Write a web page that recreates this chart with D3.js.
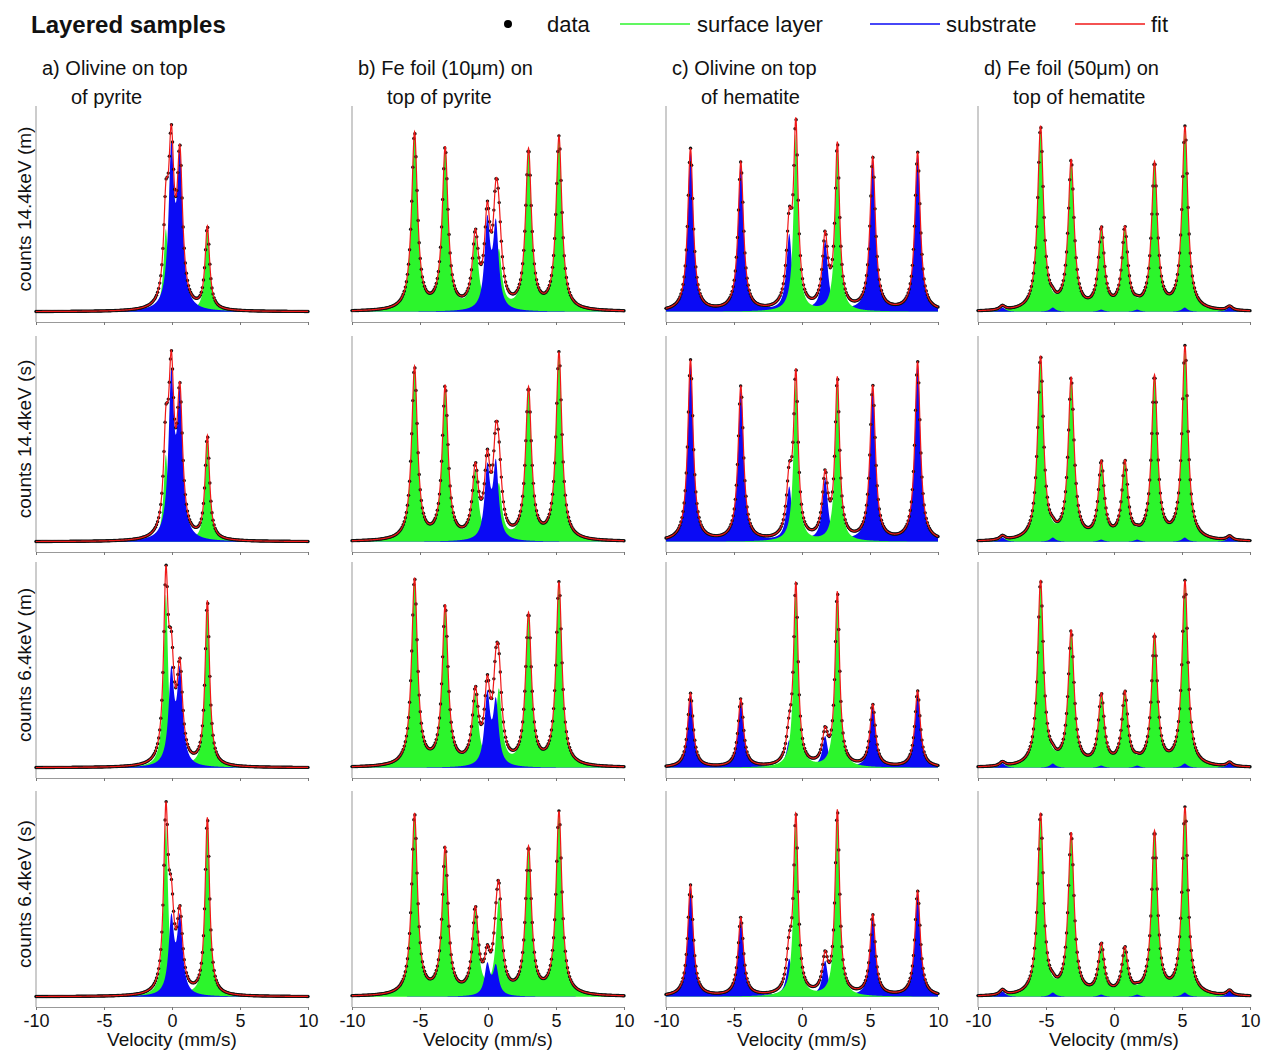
<!DOCTYPE html>
<html>
<head>
<meta charset="utf-8">
<script src="https://cdn.jsdelivr.net/npm/d3@7"></script>
<style>
  body { margin: 0; background: #fff; }
  text { font-family: "Liberation Sans", Arial, sans-serif; fill: #111; }
</style>
</head>
<body>
<div id="chart"></div>
<script>
// --- data ---
const velocityTicks = [-10, -5, 0, 5, 10];
const rowLabels = ["counts 14.4keV (m)", "counts 14.4keV (s)", "counts 6.4keV (m)", "counts 6.4keV (s)"];
const panelTitles = [
  ["a) Olivine on top", "of pyrite"],
  ["b) Fe foil (10\u03bcm) on", "top of pyrite"],
  ["c) Olivine on top", "of hematite"],
  ["d) Fe foil (50\u03bcm) on", "top of hematite"]
];
const legendItems = ["data", "surface layer", "substrate", "fit"];

// line positions (mm/s) of each phase
const olivineLines = [-0.45, 2.6];
const pyriteLines = [-0.05, 0.58];
const feFoilLines = [-5.4, -3.15, -0.93, 0.8, 2.98, 5.22];
const hematiteLines = [-8.2, -4.5, -0.94, 1.7, 5.2, 8.5];
// half widths (mm/s)
const olivineWidth = 0.2;
const pyriteWidth = 0.24;
const feFoilWidth = 0.26;
const hematiteWidth = 0.24;

// line amplitudes, one row per spectrum (relative counts above background)
const surfaceA = [[0.40, 0.40], [0.42, 0.50], [0.84, 0.80], [0.83, 0.86]];
const substrateA = [[0.74, 0.70], [0.76, 0.66], [0.44, 0.44], [0.36, 0.36]];
const surfaceB = [
  [0.86, 0.78, 0.34, 0.28, 0.77, 0.84],
  [0.84, 0.74, 0.33, 0.26, 0.73, 0.91],
  [0.91, 0.77, 0.34, 0.36, 0.73, 0.89],
  [0.88, 0.71, 0.40, 0.45, 0.71, 0.89]
];
const substrateB = [[0.42, 0.40], [0.34, 0.36], [0.34, 0.30], [0.15, 0.14]];
const surfaceC = [[0.86, 0.79], [0.78, 0.77], [0.87, 0.84], [0.85, 0.89]];
const substrateC = [
  [0.79, 0.72, 0.37, 0.34, 0.74, 0.77],
  [0.88, 0.75, 0.26, 0.30, 0.75, 0.87],
  [0.36, 0.33, 0.13, 0.15, 0.30, 0.37],
  [0.54, 0.38, 0.18, 0.17, 0.39, 0.51]
];
const surfaceD = [
  [0.89, 0.72, 0.38, 0.39, 0.71, 0.87],
  [0.89, 0.78, 0.36, 0.37, 0.79, 0.92],
  [0.90, 0.65, 0.33, 0.35, 0.63, 0.88],
  [0.88, 0.78, 0.23, 0.22, 0.79, 0.89]
];
const substrateD = [
  [0.02, 0.02, 0.01, 0.01, 0.02, 0.02],
  [0.02, 0.02, 0.01, 0.01, 0.02, 0.02],
  [0.02, 0.02, 0.01, 0.01, 0.02, 0.02],
  [0.025, 0.02, 0.01, 0.01, 0.02, 0.025]
];

const columns = [
  { surf: [olivineLines, olivineWidth, surfaceA], sub: [pyriteLines, pyriteWidth, substrateA], greenTop: false },
  { surf: [feFoilLines, feFoilWidth, surfaceB], sub: [pyriteLines, pyriteWidth, substrateB], greenTop: false },
  { surf: [olivineLines, olivineWidth, surfaceC], sub: [hematiteLines, hematiteWidth, substrateC], greenTop: true },
  { surf: [feFoilLines, feFoilWidth, surfaceD], sub: [hematiteLines, hematiteWidth, substrateD], greenTop: false }
];

// --- layout ---
const W = 1262, H = 1053;
const colX = [36, 352, 666, 978];
const panelW = 272;
const rowAxisY = [322, 552, 778, 1007];
const panelH = 216;

const GREEN = "#2cf52c", BLUE = "#0a0af5", RED = "#f01818";

const svg = d3.select("#chart").append("svg").attr("width", W).attr("height", H);

// lorentzian sum
function spectrum(v, lines, width, amps) {
  let s = 0;
  lines.forEach((p, i) => {
    const t = (v - p) / width;
    s += amps[i] / (1 + t * t);
  });
  return s;
}

const fine = d3.range(-10, 10.0001, 0.02);
const channels = d3.range(0, 256).map((i) => -10 + (i * 20) / 255);

// title + legend
svg.append("text").attr("x", 31).attr("y", 33).attr("font-size", 24).attr("font-weight", "bold").text("Layered samples");

const leg = svg.append("g").attr("font-size", 22);
leg.append("circle").attr("cx", 508).attr("cy", 24).attr("r", 4).attr("fill", "#000");
leg.append("text").attr("x", 547).attr("y", 32).text(legendItems[0]);
const legLines = [[620, 690, GREEN, 697, 1], [870, 940, BLUE, 946, 2], [1075, 1145, RED, 1151, 3]];
legLines.forEach(([x1, x2, c, tx, k]) => {
  leg.append("line").attr("x1", x1).attr("x2", x2).attr("y1", 24).attr("y2", 24).attr("stroke", c).attr("stroke-width", 1.5);
  leg.append("text").attr("x", tx).attr("y", 32).text(legendItems[k]);
});

// column titles
panelTitles.forEach((t, c) => {
  const g = svg.append("g").attr("font-size", 20);
  g.append("text").attr("x", colX[c] + 6).attr("y", 75).text(t[0]);
  g.append("text").attr("x", colX[c] + 35).attr("y", 104).text(t[1]);
});

// row labels
rowLabels.forEach((l, r) => {
  const cy = rowAxisY[r] - panelH / 2 - 5;
  svg.append("text")
    .attr("transform", `translate(31,${cy}) rotate(-90)`)
    .attr("text-anchor", "middle")
    .attr("font-size", 19)
    .text(l);
});

columns.forEach((col, c) => {
  const x = d3.scaleLinear().domain([-10, 10]).range([colX[c], colX[c] + panelW]);
  rowLabels.forEach((_, r) => {
    const y0 = rowAxisY[r];
    const y = d3.scaleLinear().domain([-0.05, 1]).range([y0, y0 - panelH]);
    const g = svg.append("g");

    const [sL, sW, sA] = col.surf;
    const [bL, bW, bA] = col.sub;
    const surf = (v) => spectrum(v, sL, sW, sA[r]);
    const sub = (v) => spectrum(v, bL, bW, bA[r]);
    const fit = (v) => surf(v) + sub(v);

    // axes
    g.append("line").attr("x1", x(-10)).attr("x2", x(-10)).attr("y1", y0 - panelH).attr("y2", y0)
      .attr("stroke", "#999").attr("stroke-width", 1);
    const ax = g.append("g").attr("transform", `translate(0,${y0})`)
      .call(d3.axisBottom(x).tickValues(velocityTicks).tickSize(3).tickSizeOuter(0)
        .tickFormat(r === 3 ? (d) => String(d) : () => ""));
    ax.select(".domain").attr("stroke", "#999");
    ax.selectAll(".tick line").attr("stroke", "#777");
    ax.selectAll(".tick text").attr("font-size", 18).attr("fill", "#111").attr("dy", "0.75em")
      .attr("font-family", "Liberation Sans, Arial, sans-serif");

    const area = (f) => d3.area().x((v) => x(v)).y0(y(0)).y1((v) => y(f(v)));
    const drawSurf = () => g.append("path").attr("d", area(surf)(fine)).attr("fill", GREEN);
    const drawSub = () => g.append("path").attr("d", area(sub)(fine)).attr("fill", BLUE);
    if (col.greenTop) { drawSub(); drawSurf(); } else { drawSurf(); drawSub(); }

    g.append("g").selectAll("circle").data(channels).join("circle")
      .attr("cx", (v) => x(v)).attr("cy", (v) => y(fit(v))).attr("r", 1.7).attr("fill", "#111");

    g.append("path").attr("d", d3.line().x((v) => x(v)).y((v) => y(fit(v)))(fine))
      .attr("fill", "none").attr("stroke", RED).attr("stroke-width", 1.2);

    if (r === 3) {
      g.append("text").attr("x", x(0)).attr("y", y0 + 39).attr("text-anchor", "middle")
        .attr("font-size", 19).text("Velocity (mm/s)");
    }
  });
});
</script>
</body>
</html>
